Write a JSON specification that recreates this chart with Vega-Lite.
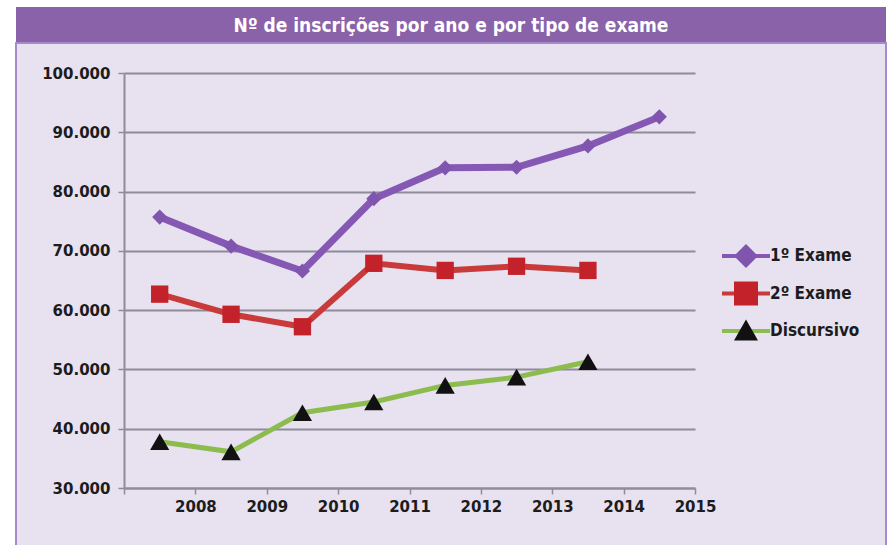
{
  "$schema": "https://vega.github.io/schema/vega-lite/v6.json",
  "background": "#ffffff",
  "padding": {"left": 15, "top": 7, "right": 6, "bottom": 0},
  "spacing": 0,
  "config": {"view": {"stroke": null}},
  "resolve": {
    "legend": {"stroke": "independent", "shape": "independent", "fill": "independent"},
    "scale": {"stroke": "independent", "shape": "independent", "fill": "independent"}
  },
  "vconcat": [
    {
      "width": 870,
      "height": 35,
      "view": {"fill": "#8a62a9", "stroke": null},
      "data": {"values": [{"titulo": "Nº de inscrições por ano e por tipo de exame"}]},
      "mark": {"type": "text", "font": "DejaVu Sans Condensed, Liberation Sans Narrow, DejaVu Sans, sans-serif", "fontWeight": "bold", "fontSize": 19, "color": "#ffffff", "align": "center", "baseline": "middle", "dy": 1},
      "encoding": {"text": {"field": "titulo", "type": "nominal"}}
    },
    {
      "width": 870,
      "height": 503,
      "view": {"fill": "#e7e1f0", "stroke": "#a58bcb", "strokeWidth": 2},
      "data": {
        "values": [
          {"ano": 2008, "exame": "1º Exame", "inscricoes": 75700},
          {"ano": 2009, "exame": "1º Exame", "inscricoes": 70800},
          {"ano": 2010, "exame": "1º Exame", "inscricoes": 66600},
          {"ano": 2011, "exame": "1º Exame", "inscricoes": 78800},
          {"ano": 2012, "exame": "1º Exame", "inscricoes": 84000},
          {"ano": 2013, "exame": "1º Exame", "inscricoes": 84100},
          {"ano": 2014, "exame": "1º Exame", "inscricoes": 87700},
          {"ano": 2015, "exame": "1º Exame", "inscricoes": 92600},
          {"ano": 2008, "exame": "2º Exame", "inscricoes": 62700},
          {"ano": 2009, "exame": "2º Exame", "inscricoes": 59300},
          {"ano": 2010, "exame": "2º Exame", "inscricoes": 57200},
          {"ano": 2011, "exame": "2º Exame", "inscricoes": 67900},
          {"ano": 2012, "exame": "2º Exame", "inscricoes": 66700},
          {"ano": 2013, "exame": "2º Exame", "inscricoes": 67400},
          {"ano": 2014, "exame": "2º Exame", "inscricoes": 66700},
          {"ano": 2008, "exame": "Discursivo", "inscricoes": 37800},
          {"ano": 2009, "exame": "Discursivo", "inscricoes": 36100},
          {"ano": 2010, "exame": "Discursivo", "inscricoes": 42700},
          {"ano": 2011, "exame": "Discursivo", "inscricoes": 44500},
          {"ano": 2012, "exame": "Discursivo", "inscricoes": 47300},
          {"ano": 2013, "exame": "Discursivo", "inscricoes": 48700},
          {"ano": 2014, "exame": "Discursivo", "inscricoes": 51300}
        ]
      },
      "encoding": {
        "x": {
          "field": "ano", "type": "ordinal",
          "scale": {"type": "band", "paddingInner": 0, "paddingOuter": 0, "range": [108, 679]},
          "axis": {
            "title": null, "orient": "bottom", "offset": -58, "labelAngle": 0,
            "tickBand": "extent", "labelOffset": 35.7, "grid": false,
            "domainColor": "#8f8b99", "domainWidth": 2, "tickColor": "#8f8b99", "tickWidth": 1.5, "tickSize": 6,
            "labelFont": "DejaVu Sans", "labelFontWeight": "bold", "labelFontSize": 15, "labelColor": "#1c1c1c", "labelPadding": 5
          }
        },
        "y": {
          "field": "inscricoes", "type": "quantitative",
          "scale": {"domain": [30000, 100000], "nice": false, "zero": false, "range": [445, 30]},
          "axis": {
            "title": null, "orient": "left", "offset": -108,
            "values": [30000, 40000, 50000, 60000, 70000, 80000, 90000, 100000],
            "labelExpr": "replace(format(datum.value, ','), ',', '.')",
            "grid": true, "gridColor": "#8f8b99", "gridWidth": 2,
            "domainColor": "#8f8b99", "domainWidth": 2, "tickColor": "#8f8b99", "tickWidth": 1.5, "tickSize": 6,
            "labelFont": "DejaVu Sans", "labelFontWeight": "bold", "labelFontSize": 15, "labelColor": "#1c1c1c", "labelPadding": 8
          }
        }
      },
      "layer": [
        {
          "mark": {"type": "line"},
          "encoding": {
            "stroke": {
              "field": "exame", "type": "nominal",
              "scale": {"domain": ["1º Exame", "2º Exame", "Discursivo"], "range": ["#8559b3", "#c93a3b", "#8cbb4e"]},
              "legend": {
                "title": null, "orient": "none", "legendX": 716, "legendY": 199, "padding": 0, "zindex": 1,
                "symbolType": "M-2,0H2", "symbolSize": 576, "symbolStrokeWidth": 4, "rowPadding": 15.5,
                "labelFont": "DejaVu Sans Condensed, Liberation Sans Narrow, DejaVu Sans, sans-serif", "labelFontWeight": "bold", "labelFontSize": 17, "labelColor": "#1c1c1c", "labelOffset": 10
              }
            },
            "strokeWidth": {
              "field": "exame", "type": "nominal",
              "scale": {"domain": ["1º Exame", "2º Exame", "Discursivo"], "range": [7, 5, 5]},
              "legend": null
            }
          }
        },
        {
          "mark": {"type": "point", "filled": true, "opacity": 1},
          "encoding": {
            "shape": {
              "field": "exame", "type": "nominal",
              "scale": {"range": ["diamond", "square", "triangle-up"]},
              "legend": {
                "title": null, "orient": "none", "legendX": 716, "legendY": 199, "padding": 0, "zindex": 2,
                "symbolSize": 576, "symbolStrokeWidth": 4, "symbolStrokeColor": "transparent", "rowPadding": -2.5,
                "labelFont": "DejaVu Sans Condensed, Liberation Sans Narrow, DejaVu Sans, sans-serif", "labelFontWeight": "bold", "labelFontSize": 17, "labelColor": "transparent", "labelOffset": 10,
                "encode": {
                  "symbols": {
                    "enter": {
                      "size": {"signal": "datum.value === '1º Exame' ? 130 : (datum.value === '2º Exame' ? 190 : 140)"}
                    },
                    "update": {
                      "size": {"signal": "datum.value === '1º Exame' ? 130 : (datum.value === '2º Exame' ? 190 : 140)"},
                      "stroke": {"value": "transparent"},
                      "opacity": {"value": 1},
                      "fillOpacity": {"value": 1}
                    }
                  }
                }
              }
            },
            "fill": {
              "field": "exame", "type": "nominal",
              "scale": {"range": ["#7f55ad", "#c4222a", "#111111"]},
              "legend": {
                "title": null, "orient": "none", "legendX": 716, "legendY": 199, "padding": 0, "zindex": 2,
                "symbolSize": 576, "symbolStrokeWidth": 4, "symbolStrokeColor": "transparent", "rowPadding": -2.5,
                "labelFont": "DejaVu Sans Condensed, Liberation Sans Narrow, DejaVu Sans, sans-serif", "labelFontWeight": "bold", "labelFontSize": 17, "labelColor": "transparent", "labelOffset": 10,
                "encode": {
                  "symbols": {
                    "enter": {
                      "size": {"signal": "datum.value === '1º Exame' ? 130 : (datum.value === '2º Exame' ? 190 : 140)"}
                    },
                    "update": {
                      "size": {"signal": "datum.value === '1º Exame' ? 130 : (datum.value === '2º Exame' ? 190 : 140)"},
                      "stroke": {"value": "transparent"},
                      "opacity": {"value": 1},
                      "fillOpacity": {"value": 1}
                    }
                  }
                }
              }
            },
            "size": {
              "field": "exame", "type": "nominal",
              "scale": {"domain": ["1º Exame", "2º Exame", "Discursivo"], "range": [230, 370, 115]},
              "legend": null
            }
          }
        }
      ]
    }
  ]
}
